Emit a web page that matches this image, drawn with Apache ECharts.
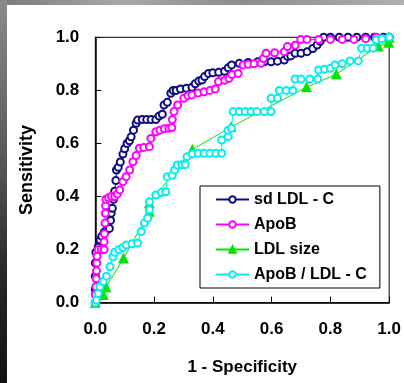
<!DOCTYPE html>
<html>
<head>
<meta charset="utf-8">
<script src="https://cdn.jsdelivr.net/npm/echarts@6/dist/echarts.min.js"></script>
<style>
html,body{margin:0;padding:0;background:#fff;}
#wrap{position:relative;width:404px;height:383px;overflow:hidden;}
#top{position:absolute;left:0;top:0;width:404px;height:5px;background:linear-gradient(90deg,#7a7a7a,#a8a8a8 30%,#8c8c8c 60%,#b0b0b0);}
#left{position:absolute;left:0;top:0;width:7px;height:383px;background:linear-gradient(180deg,#8a8a8a,#5a5a5a 40%,#2a2a2a 70%,#111);}
#chart{position:absolute;left:0;top:0;width:404px;height:383px;}
</style>
</head>
<body>
<div id="wrap"><div id="top"></div><div id="left"></div><div id="chart"></div></div>
<script>
const seriesNames = ['sd LDL-C', 'ApoB', 'LDL size', 'ApoB/LDL-C'];
const legendLabels = ['sd LDL - C', 'ApoB', 'LDL size', 'ApoB / LDL - C'];
const xTicks = [0, 0.2, 0.4, 0.6, 0.8, 1.0];
const yTicks = [0, 0.2, 0.4, 0.6, 0.8, 1.0];

const sdLDL = [
[0,0],[0,0.05],[0,0.1],[0,0.15],[0.002,0.19],[0.01,0.21],[0.016,0.236],[0.022,0.25],[0.03,0.265],[0.04,0.275],[0.048,0.28],[0.052,0.31],[0.054,0.337],[0.058,0.356],[0.062,0.39],[0.066,0.42],[0.07,0.46],[0.072,0.5],[0.078,0.51],[0.085,0.53],[0.094,0.56],[0.1,0.58],[0.108,0.6],[0.116,0.61],[0.122,0.625],[0.13,0.65],[0.139,0.676],[0.144,0.688],[0.16,0.69],[0.175,0.69],[0.19,0.69],[0.206,0.69],[0.217,0.703],[0.228,0.71],[0.234,0.745],[0.245,0.755],[0.257,0.789],[0.265,0.80],[0.275,0.80],[0.29,0.805],[0.31,0.808],[0.329,0.812],[0.34,0.825],[0.352,0.835],[0.363,0.839],[0.372,0.852],[0.385,0.864],[0.4,0.866],[0.42,0.868],[0.44,0.872],[0.452,0.885],[0.464,0.896],[0.49,0.902],[0.52,0.905],[0.553,0.908],[0.575,0.908],[0.598,0.908],[0.62,0.91],[0.643,0.914],[0.654,0.928],[0.665,0.93],[0.68,0.94],[0.7,0.94],[0.721,0.946],[0.74,0.958],[0.755,0.971],[0.765,0.985],[0.777,1.0],[0.8,1],[0.83,1],[0.86,1],[0.89,1],[0.92,1],[0.95,1],[0.98,1],[1,1]
];
const apoB = [
[0,0],[0,0.03],[0.002,0.06],[0.003,0.09],[0.004,0.12],[0.005,0.15],[0.006,0.175],[0.01,0.2],[0.02,0.2],[0.03,0.2],[0.03,0.23],[0.031,0.26],[0.033,0.3],[0.034,0.337],[0.035,0.365],[0.036,0.39],[0.045,0.395],[0.055,0.4],[0.066,0.4],[0.075,0.41],[0.083,0.425],[0.094,0.456],[0.105,0.475],[0.117,0.5],[0.128,0.531],[0.139,0.555],[0.15,0.582],[0.165,0.585],[0.184,0.588],[0.189,0.619],[0.206,0.644],[0.22,0.65],[0.235,0.655],[0.25,0.657],[0.26,0.66],[0.262,0.69],[0.268,0.72],[0.28,0.745],[0.301,0.77],[0.315,0.78],[0.329,0.783],[0.35,0.79],[0.37,0.795],[0.39,0.8],[0.408,0.805],[0.419,0.833],[0.44,0.838],[0.455,0.845],[0.465,0.86],[0.486,0.864],[0.503,0.896],[0.52,0.898],[0.54,0.9],[0.564,0.902],[0.572,0.92],[0.581,0.94],[0.61,0.942],[0.643,0.946],[0.654,0.965],[0.68,0.97],[0.699,0.992],[0.72,0.992],[0.76,0.992],[0.8,0.992],[0.84,0.992],[0.88,0.992],[0.92,0.995],[0.956,1],[1,1]
];
const ldlSize = [
[0,0],[0.027,0.029],[0.036,0.058],[0.096,0.167],[0.184,0.343],[0.184,0.375],[0.33,0.577],[0.462,0.662],[0.719,0.812],[0.82,0.861],[0.963,0.966],[0.998,0.98],[1,1]
];
const apoBLDL = [
[0,0],[0.004,0.01],[0.01,0.035],[0.016,0.06],[0.027,0.08],[0.038,0.1],[0.05,0.136],[0.06,0.173],[0.066,0.19],[0.08,0.2],[0.094,0.208],[0.105,0.217],[0.125,0.222],[0.144,0.225],[0.156,0.268],[0.167,0.3],[0.178,0.318],[0.184,0.35],[0.184,0.38],[0.206,0.406],[0.225,0.415],[0.24,0.418],[0.245,0.475],[0.262,0.48],[0.27,0.5],[0.279,0.519],[0.295,0.52],[0.306,0.52],[0.312,0.55],[0.33,0.56],[0.35,0.563],[0.37,0.563],[0.39,0.563],[0.41,0.563],[0.43,0.563],[0.43,0.613],[0.452,0.626],[0.452,0.65],[0.463,0.657],[0.469,0.72],[0.49,0.72],[0.51,0.72],[0.53,0.72],[0.55,0.72],[0.575,0.72],[0.598,0.72],[0.598,0.77],[0.62,0.77],[0.626,0.8],[0.65,0.8],[0.672,0.8],[0.68,0.843],[0.7,0.843],[0.73,0.843],[0.757,0.843],[0.76,0.877],[0.78,0.88],[0.8,0.883],[0.816,0.896],[0.84,0.9],[0.867,0.911],[0.895,0.911],[0.906,0.959],[0.925,0.959],[0.945,0.959],[0.956,0.99],[0.975,0.995],[1,1]
];

const colors = ['#0c0c80', '#ff00ff', '#00e600', '#00f0f0'];
const FONT = '"Liberation Sans", Arial, sans-serif';

const chart = echarts.init(document.getElementById('chart'), null, {renderer: 'canvas'});

function lineSeries(name, data, color, symbol, size) {
  return {
    name: name, type: 'line', data: data,
    symbol: symbol, symbolSize: size, showAllSymbol: true,
    lineStyle: {color: color, width: 1},
    itemStyle: {color: color, borderColor: color, borderWidth: 1.2},
    animation: false, z: 3
  };
}

const labelMap = {};
seriesNames.forEach((n, i) => labelMap[n] = legendLabels[i]);

chart.setOption({
  animation: false,
  grid: {left: 95.3, right: 11, top: 37.3, bottom: 80.3, show: true, borderColor: '#000', borderWidth: 1, backgroundColor: 'transparent'},
  xAxis: {
    type: 'value', min: 0, max: 1, interval: 0.2,
    name: '1 - Specificity', nameLocation: 'middle', nameGap: 56,
    nameTextStyle: {fontFamily: FONT, fontWeight: 'bold', fontSize: 17, color: '#000'},
    axisLine: {show: true, lineStyle: {color: '#000', width: 1.5}},
    axisTick: {show: true, inside: true, length: 6, lineStyle: {color: '#000', width: 1}},
    axisLabel: {fontFamily: FONT, fontWeight: 'bold', fontSize: 17, color: '#000', margin: 18,
      formatter: v => xTicks.includes(+v.toFixed(1)) ? v.toFixed(1) : ''},
    splitLine: {show: false}
  },
  yAxis: {
    type: 'value', min: 0, max: 1, interval: 0.2,
    name: 'Sensitivity', nameLocation: 'middle', nameGap: 59,
    nameTextStyle: {fontFamily: FONT, fontWeight: 'bold', fontSize: 18, color: '#000'},
    axisLine: {show: true, lineStyle: {color: '#000', width: 1.5}},
    axisTick: {show: true, inside: true, length: 6, lineStyle: {color: '#000', width: 1}},
    axisLabel: {fontFamily: FONT, fontWeight: 'bold', fontSize: 17, color: '#000', margin: 16,
      formatter: v => yTicks.includes(+v.toFixed(1)) ? v.toFixed(1) : ''},
    splitLine: {show: false}
  },
  legend: {
    orient: 'vertical', left: 200, top: 186, width: 181,
    data: seriesNames,
    formatter: n => labelMap[n],
    backgroundColor: '#fff', borderColor: '#000', borderWidth: 1,
    padding: [5, 13, 5, 15],
    itemWidth: 33, itemHeight: 8, itemGap: 8,
    textStyle: {fontFamily: FONT, fontWeight: 'bold', fontSize: 16, color: '#000', lineHeight: 17}
  },
  series: [
    lineSeries(seriesNames[0], sdLDL, colors[0], 'emptyCircle', 7),
    lineSeries(seriesNames[1], apoB, colors[1], 'emptyCircle', 7),
    lineSeries(seriesNames[2], ldlSize, colors[2], 'triangle', 9),
    lineSeries(seriesNames[3], apoBLDL, colors[3], 'emptyCircle', 7)
  ]
});
</script>
</body>
</html>
